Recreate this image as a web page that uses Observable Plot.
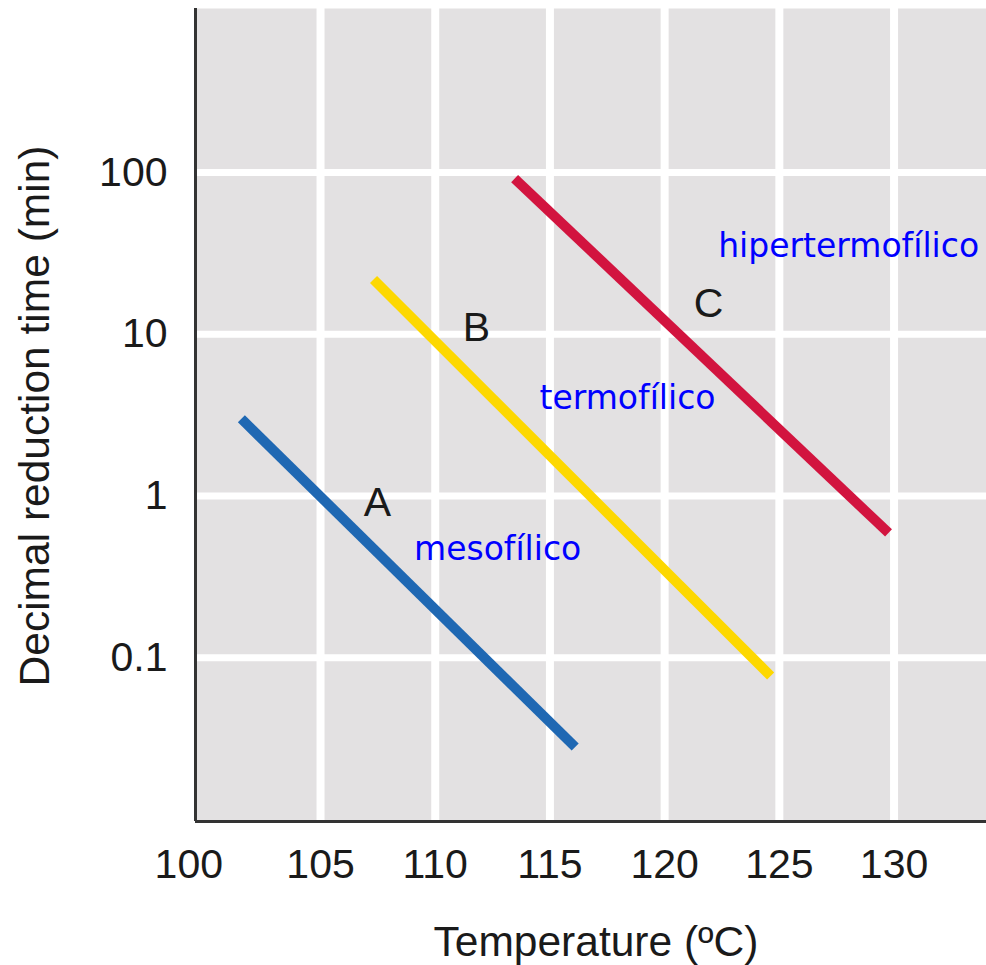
<!DOCTYPE html>
<html><head><meta charset="utf-8">
<script src="https://cdn.jsdelivr.net/npm/d3@7"></script>
<script src="https://cdn.jsdelivr.net/npm/@observablehq/plot@0.6"></script>
<style>body{margin:0;background:#fff}</style>
</head><body><div id="chart"></div>
<script>
// Series (decimal reduction time lines)
const seriesNames = ["A", "B", "C"];
const seriesColors = ["#1f68b3", "#fdd800", "#d2143f"];
const tempStart = [101.55, 107.31, 113.46];
const tempEnd = [116.1, 124.62, 129.76];
const dStart = [3.0, 21.8, 91.8];
const dEnd = [0.028, 0.077, 0.59];
// Letter labels
const letterTemp = [107.48, 111.8, 121.91];
const letterD = [0.90, 11.0, 15.3];
// Group annotations
const groupLabels = ["mesofílico", "termofílico", "hipertermofílico"];
const groupTemp = [112.72, 118.38, 128.02];
const groupD = [0.466, 4.0, 34.8];
// Axes
const xTicks = [100, 105, 110, 115, 120, 125, 130];
const yTicks = [0.1, 1, 10, 100];
const yTickLabels = ["0.1", "1", "10", "100"];
const xDomain = [99.55, 134.03];
const yDomain = [0.0097, 1033];
const xTitle = "Temperature (ºC)";
const yTitle = "Decimal reduction time (min)";

const lineData = seriesNames.flatMap((s, i) => [
  {series: s, temp: tempStart[i], d: dStart[i]},
  {series: s, temp: tempEnd[i], d: dEnd[i]}
]);
const letters = seriesNames.map((s, i) => ({label: s, temp: letterTemp[i], d: letterD[i]}));
const groups = groupLabels.map((g, i) => ({label: g, temp: groupTemp[i], d: groupD[i]}));

const tickFont = {fontSize: 41, fill: "#1a1a1a"};

const chart = Plot.plot({
  width: 986,
  height: 965,
  marginLeft: 195,
  marginRight: 0,
  marginTop: 8,
  marginBottom: 144,
  style: {fontFamily: "'Liberation Sans', Arial, sans-serif", background: "#fff", overflow: "visible"},
  x: {domain: xDomain, label: null},
  y: {type: "log", domain: yDomain, label: null},
  color: {domain: seriesNames, range: seriesColors},
  marks: [
    Plot.frame({fill: "#e3e1e2", stroke: null}),
    Plot.gridX(xTicks.slice(1), {stroke: "white", strokeOpacity: 1, strokeWidth: 8}),
    Plot.gridY(yTicks, {stroke: "white", strokeOpacity: 1, strokeWidth: 7}),
    Plot.ruleX([xDomain[0]], {stroke: "#333", strokeWidth: 3}),
    Plot.ruleY([yDomain[0]], {stroke: "#333", strokeWidth: 3}),
    Plot.axisX(xTicks.slice(1), {tickSize: 0, tickPadding: 27, tickFormat: d => String(d), ...tickFont}),
    Plot.axisX([xTicks[0]], {tickSize: 0, tickPadding: 27, dx: -17, tickFormat: d => String(d), ...tickFont}),
    Plot.axisY(yTicks, {tickSize: 0, tickPadding: 28, tickFormat: (d, i) => yTickLabels[yTicks.indexOf(d)], ...tickFont}),
    Plot.line(lineData, {x: "temp", y: "d", z: "series", stroke: "series", strokeWidth: 10, strokeLinecap: "butt"}),
    Plot.text(letters, {x: "temp", y: "d", text: "label", fontSize: 41, fill: "#1a1a1a"}),
    Plot.text(groups, {x: "temp", y: "d", text: "label", fontSize: 33, fill: "#0000ff", fontFamily: "'DejaVu Sans', sans-serif"}),
    Plot.text([xTitle], {frameAnchor: "bottom", lineAnchor: "middle", textAnchor: "middle", dy: 121, dx: 5, fontSize: 42.5, fill: "#1a1a1a"}),
    Plot.text([yTitle], {frameAnchor: "left", lineAnchor: "middle", textAnchor: "middle", dx: -160, dy: 1, rotate: -90, fontSize: 42.5, fill: "#1a1a1a"})
  ]
});
document.getElementById("chart").appendChild(chart);
</script>
</body></html>
